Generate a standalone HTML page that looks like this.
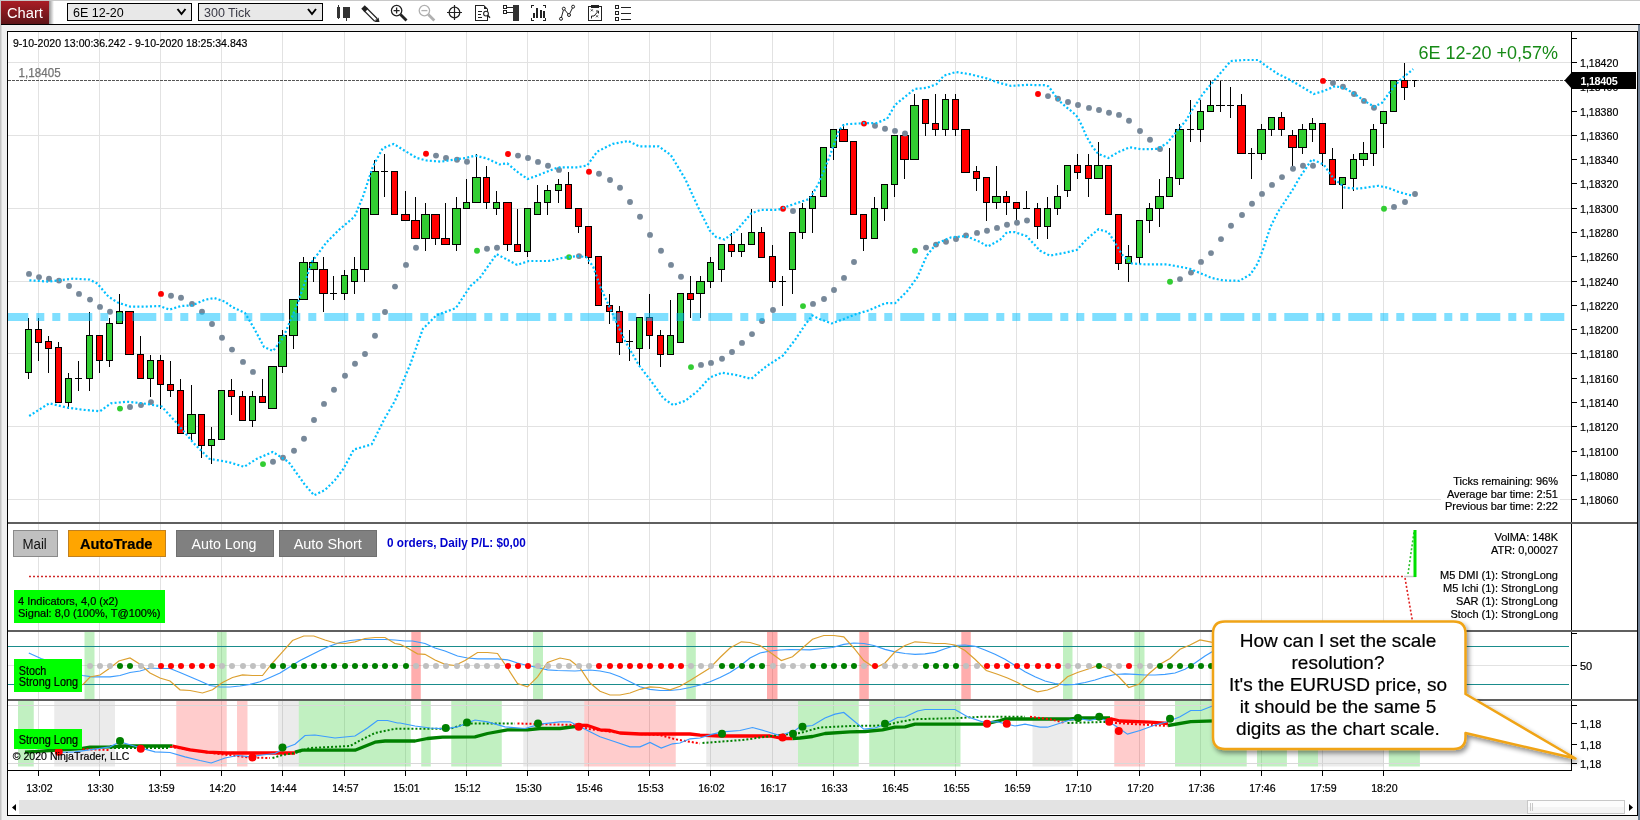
<!DOCTYPE html>
<html><head><meta charset="utf-8"><title>Chart</title>
<style>html,body{margin:0;padding:0;width:1640px;height:820px;overflow:hidden;background:#f0f0f0;font-family:'Liberation Sans', sans-serif;} svg text[fill="#000"]{stroke:#000;stroke-width:0.2px;}</style>
</head><body>
<div style="position:relative;width:1640px;height:820px;overflow:hidden;will-change:transform;">
<svg width="1640" height="820" viewBox="0 0 1640 820" style="position:absolute;left:0;top:0" font-family='"Liberation Sans", sans-serif'>
<defs><clipPath id="cp"><rect x="8" y="32" width="1563" height="490"/></clipPath><clipPath id="cp2"><rect x="8" y="524" width="1563" height="106"/></clipPath><clipPath id="cp3"><rect x="8" y="632" width="1563" height="67"/></clipPath><clipPath id="cp4"><rect x="8" y="701" width="1563" height="69"/></clipPath><filter id="sh" x="-10%" y="-10%" width="130%" height="140%"><feGaussianBlur in="SourceAlpha" stdDeviation="2.5"/><feOffset dx="2" dy="3"/><feComponentTransfer><feFuncA type="linear" slope="0.45"/></feComponentTransfer><feMerge><feMergeNode/><feMergeNode in="SourceGraphic"/></feMerge></filter></defs>
<rect x="0" y="0" width="1640" height="820" fill="#f0f0f0"/>
<rect x="0" y="25" width="1.5" height="795" fill="#c4c4c4"/>
<rect x="1638" y="25" width="2" height="795" fill="#718094"/>
<rect x="0" y="0" width="1640" height="24" fill="#ffffff"/>
<rect x="0" y="0" width="1640" height="1" fill="#c8c8c8"/>
<rect x="1" y="24" width="1639" height="1" fill="#000"/>
<rect x="7.5" y="31.5" width="1630" height="784" fill="#fff" stroke="#000" stroke-width="1"/>
<path d="M38.5,32V770 M99.5,32V770 M160.5,32V770 M221.5,32V770 M282.5,32V770 M344.5,32V770 M405.5,32V770 M466.5,32V770 M527.5,32V770 M588.5,32V770 M649.5,32V770 M710.5,32V770 M772.5,32V770 M833.5,32V770 M894.5,32V770 M955.5,32V770 M1016.5,32V770 M1077.5,32V770 M1139.5,32V770 M1200.5,32V770 M1261.5,32V770 M1322.5,32V770 M1383.5,32V770 M8,62.5H1571 M8,135.5H1571 M8,208.5H1571 M8,281.5H1571 M8,353.5H1571 M8,426.5H1571 M8,499.5H1571 M8,665.5H1571 M8,705.5H1571 M8,763.5H1571" stroke="#e2e2e2" stroke-width="1" fill="none"/>
<g clip-path="url(#cp)">
<line x1="8" y1="80.5" x2="1566" y2="80.5" stroke="#555" stroke-width="1" stroke-dasharray="3 1"/>
<path d="M28.5,318V329 M28.5,373V379 M38.5,318V329 M38.5,343V361 M48.5,336V341 M48.5,349V373 M58.5,342V347 M68.5,373V378 M68.5,403V409 M78.5,361V391 M75,378.5H82 M89.5,312V335 M89.5,379V391 M99.5,361V373 M109.5,318V323 M109.5,361V367 M119.5,294V311 M140.5,336V354 M150.5,355V360 M150.5,379V397 M160.5,355V360 M160.5,385V409 M170.5,361V384 M170.5,391V397 M180.5,379V390 M191.5,385V414 M191.5,434V440 M201.5,446V458 M211.5,427V439 M211.5,446V464 M231.5,379V390 M231.5,397V415 M242.5,391V396 M252.5,391V396 M252.5,421V427 M262.5,379V396 M282.5,330V335 M282.5,367V373 M293.5,336V349 M303.5,257V262 M313.5,257V262 M313.5,270V282 M323.5,257V269 M323.5,294V312 M333.5,276V300 M330,293.5H337 M344.5,270V275 M344.5,294V300 M354.5,257V269 M354.5,282V294 M364.5,270V282 M374.5,160V171 M384.5,154V197 M381,171.5H388 M405.5,191V214 M415.5,197V220 M425.5,203V214 M425.5,239V251 M435.5,239V245 M445.5,203V238 M456.5,197V208 M456.5,245V251 M466.5,179V202 M476.5,154V177 M486.5,166V177 M486.5,203V209 M496.5,191V202 M496.5,209V215 M507.5,245V251 M517.5,209V244 M527.5,252V257 M537.5,185V202 M547.5,185V190 M547.5,203V215 M558.5,179V184 M558.5,191V203 M568.5,172V184 M578.5,227V233 M588.5,258V264 M609.5,294V305 M609.5,312V324 M619.5,306V311 M619.5,343V355 M629.5,330V361 M626,341.5H633 M639.5,349V367 M649.5,294V317 M649.5,336V349 M660.5,330V335 M660.5,355V367 M670.5,300V335 M690.5,276V293 M690.5,300V318 M700.5,276V281 M700.5,294V318 M710.5,257V262 M710.5,282V288 M721.5,270V282 M731.5,233V244 M731.5,252V257 M741.5,233V244 M741.5,252V257 M751.5,209V232 M761.5,227V232 M772.5,245V256 M772.5,282V288 M782.5,276V306 M779,281.5H786 M792.5,270V294 M802.5,203V208 M802.5,233V239 M812.5,191V196 M812.5,209V233 M833.5,148V160 M843.5,124V129 M863.5,239V251 M874.5,197V208 M884.5,209V221 M894.5,185V197 M904.5,160V179 M914.5,94V105 M925.5,124V136 M935.5,94V123 M935.5,130V136 M945.5,94V99 M945.5,130V136 M955.5,94V99 M955.5,130V136 M976.5,166V171 M976.5,179V191 M986.5,203V221 M996.5,166V196 M996.5,203V209 M1006.5,191V196 M1006.5,203V215 M1016.5,209V221 M1026.5,191V209 M1023,208.5H1030 M1037.5,203V208 M1037.5,227V239 M1047.5,197V208 M1047.5,227V239 M1057.5,185V196 M1057.5,209V215 M1067.5,191V197 M1077.5,154V165 M1077.5,173V179 M1088.5,154V165 M1088.5,179V197 M1098.5,142V165 M1118.5,264V270 M1128.5,245V256 M1128.5,264V282 M1139.5,258V264 M1149.5,203V208 M1149.5,221V233 M1159.5,179V196 M1159.5,209V227 M1169.5,148V177 M1179.5,124V129 M1179.5,179V185 M1190.5,100V142 M1187,129.5H1194 M1200.5,100V111 M1200.5,130V142 M1210.5,81V105 M1220.5,81V112 M1216,105.5H1225 M1230.5,87V118 M1227,105.5H1234 M1241.5,94V105 M1251.5,148V179 M1248,153.5H1255 M1261.5,124V129 M1261.5,154V160 M1271.5,130V136 M1281.5,112V117 M1281.5,130V136 M1292.5,130V135 M1292.5,148V166 M1302.5,124V129 M1302.5,148V154 M1312.5,118V123 M1312.5,130V142 M1322.5,154V166 M1332.5,148V159 M1342.5,185V209 M1353.5,154V159 M1353.5,179V191 M1363.5,142V153 M1363.5,160V166 M1373.5,124V129 M1373.5,154V166 M1383.5,124V148 M1404.5,63V80 M1404.5,88V100 M1414.5,80V87 M1412,80.5H1417" stroke="#000" stroke-width="1" fill="none"/>
<rect x="25.5" y="329.5" width="6" height="43" fill="#32cd32" stroke="#000" stroke-width="1"/><rect x="35.5" y="329.5" width="6" height="13" fill="#ff0000" stroke="#000" stroke-width="1"/><rect x="45.5" y="341.5" width="6" height="7" fill="#ff0000" stroke="#000" stroke-width="1"/><rect x="55.5" y="347.5" width="6" height="55" fill="#ff0000" stroke="#000" stroke-width="1"/><rect x="65.5" y="378.5" width="6" height="24" fill="#32cd32" stroke="#000" stroke-width="1"/><rect x="86.5" y="335.5" width="6" height="43" fill="#32cd32" stroke="#000" stroke-width="1"/><rect x="96.5" y="335.5" width="6" height="25" fill="#ff0000" stroke="#000" stroke-width="1"/><rect x="106.5" y="323.5" width="6" height="37" fill="#32cd32" stroke="#000" stroke-width="1"/><rect x="116.5" y="311.5" width="6" height="12" fill="#32cd32" stroke="#000" stroke-width="1"/><rect x="125.5" y="311.5" width="8" height="43" fill="#ff0000" stroke="#000" stroke-width="1"/><rect x="137.5" y="354.5" width="6" height="24" fill="#ff0000" stroke="#000" stroke-width="1"/><rect x="147.5" y="360.5" width="6" height="18" fill="#32cd32" stroke="#000" stroke-width="1"/><rect x="157.5" y="360.5" width="6" height="24" fill="#ff0000" stroke="#000" stroke-width="1"/><rect x="167.5" y="384.5" width="6" height="6" fill="#ff0000" stroke="#000" stroke-width="1"/><rect x="177.5" y="390.5" width="6" height="43" fill="#ff0000" stroke="#000" stroke-width="1"/><rect x="187.5" y="414.5" width="8" height="19" fill="#32cd32" stroke="#000" stroke-width="1"/><rect x="198.5" y="414.5" width="6" height="31" fill="#ff0000" stroke="#000" stroke-width="1"/><rect x="208.5" y="439.5" width="6" height="6" fill="#32cd32" stroke="#000" stroke-width="1"/><rect x="218.5" y="390.5" width="6" height="49" fill="#32cd32" stroke="#000" stroke-width="1"/><rect x="228.5" y="390.5" width="6" height="6" fill="#ff0000" stroke="#000" stroke-width="1"/><rect x="239.5" y="396.5" width="6" height="24" fill="#ff0000" stroke="#000" stroke-width="1"/><rect x="249.5" y="396.5" width="6" height="24" fill="#32cd32" stroke="#000" stroke-width="1"/><rect x="259.5" y="396.5" width="6" height="6" fill="#ff0000" stroke="#000" stroke-width="1"/><rect x="268.5" y="366.5" width="8" height="42" fill="#32cd32" stroke="#000" stroke-width="1"/><rect x="278.5" y="335.5" width="8" height="31" fill="#32cd32" stroke="#000" stroke-width="1"/><rect x="289.5" y="299.5" width="8" height="36" fill="#32cd32" stroke="#000" stroke-width="1"/><rect x="299.5" y="262.5" width="8" height="37" fill="#32cd32" stroke="#000" stroke-width="1"/><rect x="309.5" y="262.5" width="8" height="7" fill="#32cd32" stroke="#000" stroke-width="1"/><rect x="319.5" y="269.5" width="8" height="24" fill="#ff0000" stroke="#000" stroke-width="1"/><rect x="341.5" y="275.5" width="6" height="18" fill="#32cd32" stroke="#000" stroke-width="1"/><rect x="351.5" y="269.5" width="6" height="12" fill="#32cd32" stroke="#000" stroke-width="1"/><rect x="360.5" y="208.5" width="8" height="61" fill="#32cd32" stroke="#000" stroke-width="1"/><rect x="370.5" y="171.5" width="8" height="43" fill="#32cd32" stroke="#000" stroke-width="1"/><rect x="391.5" y="171.5" width="6" height="43" fill="#ff0000" stroke="#000" stroke-width="1"/><rect x="401.5" y="214.5" width="8" height="6" fill="#ff0000" stroke="#000" stroke-width="1"/><rect x="411.5" y="220.5" width="8" height="18" fill="#ff0000" stroke="#000" stroke-width="1"/><rect x="421.5" y="214.5" width="8" height="24" fill="#32cd32" stroke="#000" stroke-width="1"/><rect x="431.5" y="214.5" width="8" height="24" fill="#ff0000" stroke="#000" stroke-width="1"/><rect x="441.5" y="238.5" width="8" height="6" fill="#ff0000" stroke="#000" stroke-width="1"/><rect x="452.5" y="208.5" width="8" height="36" fill="#32cd32" stroke="#000" stroke-width="1"/><rect x="463.5" y="202.5" width="6" height="6" fill="#32cd32" stroke="#000" stroke-width="1"/><rect x="472.5" y="177.5" width="8" height="25" fill="#32cd32" stroke="#000" stroke-width="1"/><rect x="483.5" y="177.5" width="6" height="25" fill="#ff0000" stroke="#000" stroke-width="1"/><rect x="493.5" y="202.5" width="6" height="6" fill="#32cd32" stroke="#000" stroke-width="1"/><rect x="503.5" y="202.5" width="8" height="42" fill="#ff0000" stroke="#000" stroke-width="1"/><rect x="514.5" y="244.5" width="6" height="7" fill="#ff0000" stroke="#000" stroke-width="1"/><rect x="524.5" y="208.5" width="6" height="43" fill="#32cd32" stroke="#000" stroke-width="1"/><rect x="534.5" y="202.5" width="6" height="12" fill="#32cd32" stroke="#000" stroke-width="1"/><rect x="544.5" y="190.5" width="6" height="12" fill="#32cd32" stroke="#000" stroke-width="1"/><rect x="555.5" y="184.5" width="6" height="6" fill="#32cd32" stroke="#000" stroke-width="1"/><rect x="565.5" y="184.5" width="6" height="24" fill="#ff0000" stroke="#000" stroke-width="1"/><rect x="575.5" y="208.5" width="6" height="18" fill="#ff0000" stroke="#000" stroke-width="1"/><rect x="585.5" y="226.5" width="6" height="31" fill="#ff0000" stroke="#000" stroke-width="1"/><rect x="595.5" y="256.5" width="6" height="49" fill="#ff0000" stroke="#000" stroke-width="1"/><rect x="606.5" y="305.5" width="6" height="6" fill="#ff0000" stroke="#000" stroke-width="1"/><rect x="616.5" y="311.5" width="6" height="31" fill="#ff0000" stroke="#000" stroke-width="1"/><rect x="636.5" y="317.5" width="6" height="31" fill="#32cd32" stroke="#000" stroke-width="1"/><rect x="646.5" y="317.5" width="6" height="18" fill="#ff0000" stroke="#000" stroke-width="1"/><rect x="657.5" y="335.5" width="6" height="19" fill="#ff0000" stroke="#000" stroke-width="1"/><rect x="667.5" y="335.5" width="6" height="19" fill="#32cd32" stroke="#000" stroke-width="1"/><rect x="677.5" y="293.5" width="6" height="49" fill="#32cd32" stroke="#000" stroke-width="1"/><rect x="687.5" y="293.5" width="6" height="6" fill="#ff0000" stroke="#000" stroke-width="1"/><rect x="696.5" y="281.5" width="8" height="12" fill="#32cd32" stroke="#000" stroke-width="1"/><rect x="707.5" y="262.5" width="6" height="19" fill="#32cd32" stroke="#000" stroke-width="1"/><rect x="718.5" y="244.5" width="6" height="25" fill="#32cd32" stroke="#000" stroke-width="1"/><rect x="728.5" y="244.5" width="6" height="7" fill="#ff0000" stroke="#000" stroke-width="1"/><rect x="738.5" y="244.5" width="6" height="7" fill="#32cd32" stroke="#000" stroke-width="1"/><rect x="748.5" y="232.5" width="6" height="12" fill="#32cd32" stroke="#000" stroke-width="1"/><rect x="758.5" y="232.5" width="6" height="25" fill="#ff0000" stroke="#000" stroke-width="1"/><rect x="769.5" y="256.5" width="6" height="25" fill="#ff0000" stroke="#000" stroke-width="1"/><rect x="789.5" y="232.5" width="6" height="37" fill="#32cd32" stroke="#000" stroke-width="1"/><rect x="799.5" y="208.5" width="6" height="24" fill="#32cd32" stroke="#000" stroke-width="1"/><rect x="809.5" y="196.5" width="6" height="12" fill="#32cd32" stroke="#000" stroke-width="1"/><rect x="820.5" y="147.5" width="6" height="49" fill="#32cd32" stroke="#000" stroke-width="1"/><rect x="830.5" y="129.5" width="6" height="18" fill="#32cd32" stroke="#000" stroke-width="1"/><rect x="839.5" y="129.5" width="8" height="12" fill="#ff0000" stroke="#000" stroke-width="1"/><rect x="850.5" y="141.5" width="6" height="73" fill="#ff0000" stroke="#000" stroke-width="1"/><rect x="860.5" y="214.5" width="6" height="24" fill="#ff0000" stroke="#000" stroke-width="1"/><rect x="871.5" y="208.5" width="6" height="30" fill="#32cd32" stroke="#000" stroke-width="1"/><rect x="881.5" y="184.5" width="6" height="24" fill="#32cd32" stroke="#000" stroke-width="1"/><rect x="891.5" y="135.5" width="6" height="49" fill="#32cd32" stroke="#000" stroke-width="1"/><rect x="900.5" y="135.5" width="8" height="24" fill="#ff0000" stroke="#000" stroke-width="1"/><rect x="910.5" y="105.5" width="8" height="54" fill="#32cd32" stroke="#000" stroke-width="1"/><rect x="922.5" y="99.5" width="6" height="24" fill="#ff0000" stroke="#000" stroke-width="1"/><rect x="932.5" y="123.5" width="6" height="6" fill="#ff0000" stroke="#000" stroke-width="1"/><rect x="942.5" y="99.5" width="6" height="30" fill="#32cd32" stroke="#000" stroke-width="1"/><rect x="952.5" y="99.5" width="6" height="30" fill="#ff0000" stroke="#000" stroke-width="1"/><rect x="961.5" y="129.5" width="8" height="43" fill="#ff0000" stroke="#000" stroke-width="1"/><rect x="973.5" y="171.5" width="6" height="7" fill="#ff0000" stroke="#000" stroke-width="1"/><rect x="983.5" y="177.5" width="6" height="25" fill="#ff0000" stroke="#000" stroke-width="1"/><rect x="992.5" y="196.5" width="8" height="6" fill="#32cd32" stroke="#000" stroke-width="1"/><rect x="1003.5" y="196.5" width="6" height="6" fill="#ff0000" stroke="#000" stroke-width="1"/><rect x="1013.5" y="202.5" width="6" height="6" fill="#ff0000" stroke="#000" stroke-width="1"/><rect x="1034.5" y="208.5" width="6" height="18" fill="#ff0000" stroke="#000" stroke-width="1"/><rect x="1044.5" y="208.5" width="6" height="18" fill="#32cd32" stroke="#000" stroke-width="1"/><rect x="1054.5" y="196.5" width="6" height="12" fill="#32cd32" stroke="#000" stroke-width="1"/><rect x="1064.5" y="165.5" width="6" height="25" fill="#32cd32" stroke="#000" stroke-width="1"/><rect x="1074.5" y="165.5" width="6" height="7" fill="#ff0000" stroke="#000" stroke-width="1"/><rect x="1085.5" y="165.5" width="6" height="13" fill="#ff0000" stroke="#000" stroke-width="1"/><rect x="1094.5" y="165.5" width="8" height="13" fill="#32cd32" stroke="#000" stroke-width="1"/><rect x="1105.5" y="165.5" width="6" height="49" fill="#ff0000" stroke="#000" stroke-width="1"/><rect x="1115.5" y="214.5" width="6" height="49" fill="#ff0000" stroke="#000" stroke-width="1"/><rect x="1125.5" y="256.5" width="6" height="7" fill="#32cd32" stroke="#000" stroke-width="1"/><rect x="1136.5" y="220.5" width="6" height="37" fill="#32cd32" stroke="#000" stroke-width="1"/><rect x="1146.5" y="208.5" width="6" height="12" fill="#32cd32" stroke="#000" stroke-width="1"/><rect x="1155.5" y="196.5" width="8" height="12" fill="#32cd32" stroke="#000" stroke-width="1"/><rect x="1166.5" y="177.5" width="6" height="19" fill="#32cd32" stroke="#000" stroke-width="1"/><rect x="1175.5" y="129.5" width="8" height="49" fill="#32cd32" stroke="#000" stroke-width="1"/><rect x="1197.5" y="111.5" width="6" height="18" fill="#32cd32" stroke="#000" stroke-width="1"/><rect x="1207.5" y="105.5" width="6" height="6" fill="#32cd32" stroke="#000" stroke-width="1"/><rect x="1237.5" y="105.5" width="8" height="48" fill="#ff0000" stroke="#000" stroke-width="1"/><rect x="1257.5" y="129.5" width="8" height="24" fill="#32cd32" stroke="#000" stroke-width="1"/><rect x="1268.5" y="117.5" width="6" height="12" fill="#32cd32" stroke="#000" stroke-width="1"/><rect x="1278.5" y="117.5" width="6" height="12" fill="#ff0000" stroke="#000" stroke-width="1"/><rect x="1288.5" y="135.5" width="8" height="12" fill="#ff0000" stroke="#000" stroke-width="1"/><rect x="1298.5" y="129.5" width="8" height="18" fill="#32cd32" stroke="#000" stroke-width="1"/><rect x="1309.5" y="123.5" width="6" height="6" fill="#32cd32" stroke="#000" stroke-width="1"/><rect x="1319.5" y="123.5" width="6" height="30" fill="#ff0000" stroke="#000" stroke-width="1"/><rect x="1329.5" y="159.5" width="6" height="25" fill="#ff0000" stroke="#000" stroke-width="1"/><rect x="1339.5" y="177.5" width="6" height="7" fill="#32cd32" stroke="#000" stroke-width="1"/><rect x="1350.5" y="159.5" width="6" height="19" fill="#32cd32" stroke="#000" stroke-width="1"/><rect x="1359.5" y="153.5" width="8" height="6" fill="#32cd32" stroke="#000" stroke-width="1"/><rect x="1370.5" y="129.5" width="6" height="24" fill="#32cd32" stroke="#000" stroke-width="1"/><rect x="1380.5" y="111.5" width="6" height="12" fill="#32cd32" stroke="#000" stroke-width="1"/><rect x="1390.5" y="80.5" width="6" height="31" fill="#32cd32" stroke="#000" stroke-width="1"/><rect x="1401.5" y="80.5" width="6" height="7" fill="#ff0000" stroke="#000" stroke-width="1"/>
<circle cx="29" cy="273.9" r="2.95" fill="#778899"/><circle cx="39" cy="277.1" r="2.95" fill="#778899"/><circle cx="49" cy="278.7" r="2.95" fill="#778899"/><circle cx="59" cy="280.6" r="2.95" fill="#778899"/><circle cx="69" cy="286.0" r="2.95" fill="#778899"/><circle cx="79" cy="293.9" r="2.95" fill="#778899"/><circle cx="90" cy="299.6" r="2.95" fill="#778899"/><circle cx="100" cy="306.9" r="2.95" fill="#778899"/><circle cx="110" cy="311.7" r="2.95" fill="#778899"/><circle cx="120" cy="408.6" r="2.95" fill="#32cd32"/><circle cx="130" cy="407.0" r="2.95" fill="#778899"/><circle cx="141" cy="405.1" r="2.95" fill="#778899"/><circle cx="151" cy="402.1" r="2.95" fill="#778899"/><circle cx="161" cy="293.9" r="2.95" fill="#ff0000"/><circle cx="171" cy="295.8" r="2.95" fill="#778899"/><circle cx="181" cy="297.8" r="2.95" fill="#778899"/><circle cx="192" cy="303.9" r="2.95" fill="#778899"/><circle cx="202" cy="311.7" r="2.95" fill="#778899"/><circle cx="212" cy="324.0" r="2.95" fill="#778899"/><circle cx="222" cy="337.8" r="2.95" fill="#778899"/><circle cx="232" cy="349.6" r="2.95" fill="#778899"/><circle cx="243" cy="361.9" r="2.95" fill="#778899"/><circle cx="253" cy="371.9" r="2.95" fill="#778899"/><circle cx="263" cy="464.1" r="2.95" fill="#32cd32"/><circle cx="273" cy="461.8" r="2.95" fill="#778899"/><circle cx="283" cy="457.7" r="2.95" fill="#778899"/><circle cx="294" cy="450.8" r="2.95" fill="#778899"/><circle cx="304" cy="438.7" r="2.95" fill="#778899"/><circle cx="314" cy="420.0" r="2.95" fill="#778899"/><circle cx="324" cy="403.9" r="2.95" fill="#778899"/><circle cx="334" cy="389.8" r="2.95" fill="#778899"/><circle cx="345" cy="375.7" r="2.95" fill="#778899"/><circle cx="355" cy="363.7" r="2.95" fill="#778899"/><circle cx="365" cy="354.0" r="2.95" fill="#778899"/><circle cx="375" cy="335.8" r="2.95" fill="#778899"/><circle cx="385" cy="312.0" r="2.95" fill="#778899"/><circle cx="395" cy="286.6" r="2.95" fill="#778899"/><circle cx="406" cy="264.9" r="2.95" fill="#778899"/><circle cx="416" cy="247.8" r="2.95" fill="#778899"/><circle cx="426" cy="153.7" r="2.95" fill="#ff0000"/><circle cx="436" cy="155.6" r="2.95" fill="#778899"/><circle cx="446" cy="158.0" r="2.95" fill="#778899"/><circle cx="457" cy="159.8" r="2.95" fill="#778899"/><circle cx="467" cy="161.7" r="2.95" fill="#778899"/><circle cx="477" cy="250.7" r="2.95" fill="#32cd32"/><circle cx="487" cy="248.8" r="2.95" fill="#778899"/><circle cx="497" cy="247.7" r="2.95" fill="#778899"/><circle cx="508" cy="154.0" r="2.95" fill="#ff0000"/><circle cx="518" cy="155.6" r="2.95" fill="#778899"/><circle cx="528" cy="158.0" r="2.95" fill="#778899"/><circle cx="538" cy="161.9" r="2.95" fill="#778899"/><circle cx="548" cy="165.8" r="2.95" fill="#778899"/><circle cx="559" cy="169.9" r="2.95" fill="#778899"/><circle cx="569" cy="257.1" r="2.95" fill="#32cd32"/><circle cx="579" cy="256.1" r="2.95" fill="#778899"/><circle cx="589" cy="171.8" r="2.95" fill="#ff0000"/><circle cx="599" cy="173.8" r="2.95" fill="#778899"/><circle cx="610" cy="180.0" r="2.95" fill="#778899"/><circle cx="620" cy="187.8" r="2.95" fill="#778899"/><circle cx="630" cy="202.0" r="2.95" fill="#778899"/><circle cx="640" cy="216.7" r="2.95" fill="#778899"/><circle cx="650" cy="234.9" r="2.95" fill="#778899"/><circle cx="661" cy="250.7" r="2.95" fill="#778899"/><circle cx="671" cy="264.9" r="2.95" fill="#778899"/><circle cx="681" cy="276.8" r="2.95" fill="#778899"/><circle cx="691" cy="367.1" r="2.95" fill="#32cd32"/><circle cx="701" cy="364.9" r="2.95" fill="#778899"/><circle cx="711" cy="362.9" r="2.95" fill="#778899"/><circle cx="722" cy="358.8" r="2.95" fill="#778899"/><circle cx="732" cy="352.0" r="2.95" fill="#778899"/><circle cx="742" cy="342.9" r="2.95" fill="#778899"/><circle cx="752" cy="334.1" r="2.95" fill="#778899"/><circle cx="762" cy="321.0" r="2.95" fill="#778899"/><circle cx="773" cy="310.0" r="2.95" fill="#778899"/><circle cx="783" cy="208.8" r="2.95" fill="#ff0000"/><circle cx="793" cy="211.0" r="2.95" fill="#778899"/><circle cx="803" cy="306.1" r="2.95" fill="#32cd32"/><circle cx="813" cy="303.9" r="2.95" fill="#778899"/><circle cx="824" cy="299.0" r="2.95" fill="#778899"/><circle cx="834" cy="290.0" r="2.95" fill="#778899"/><circle cx="844" cy="277.9" r="2.95" fill="#778899"/><circle cx="854" cy="262.0" r="2.95" fill="#778899"/><circle cx="864" cy="123.6" r="2.95" fill="#ff0000"/><circle cx="875" cy="125.8" r="2.95" fill="#778899"/><circle cx="885" cy="128.7" r="2.95" fill="#778899"/><circle cx="895" cy="130.9" r="2.95" fill="#778899"/><circle cx="905" cy="133.5" r="2.95" fill="#778899"/><circle cx="915" cy="250.7" r="2.95" fill="#32cd32"/><circle cx="926" cy="247.6" r="2.95" fill="#778899"/><circle cx="936" cy="244.6" r="2.95" fill="#778899"/><circle cx="946" cy="241.7" r="2.95" fill="#778899"/><circle cx="956" cy="239.0" r="2.95" fill="#778899"/><circle cx="966" cy="235.4" r="2.95" fill="#778899"/><circle cx="977" cy="232.9" r="2.95" fill="#778899"/><circle cx="987" cy="230.8" r="2.95" fill="#778899"/><circle cx="997" cy="227.9" r="2.95" fill="#778899"/><circle cx="1007" cy="224.8" r="2.95" fill="#778899"/><circle cx="1017" cy="222.8" r="2.95" fill="#778899"/><circle cx="1027" cy="220.5" r="2.95" fill="#778899"/><circle cx="1038" cy="94.0" r="2.95" fill="#ff0000"/><circle cx="1048" cy="96.1" r="2.95" fill="#778899"/><circle cx="1058" cy="98.8" r="2.95" fill="#778899"/><circle cx="1068" cy="102.0" r="2.95" fill="#778899"/><circle cx="1078" cy="105.0" r="2.95" fill="#778899"/><circle cx="1089" cy="107.9" r="2.95" fill="#778899"/><circle cx="1099" cy="110.0" r="2.95" fill="#778899"/><circle cx="1109" cy="112.7" r="2.95" fill="#778899"/><circle cx="1119" cy="114.9" r="2.95" fill="#778899"/><circle cx="1129" cy="120.8" r="2.95" fill="#778899"/><circle cx="1140" cy="131.0" r="2.95" fill="#778899"/><circle cx="1150" cy="139.8" r="2.95" fill="#778899"/><circle cx="1160" cy="149.0" r="2.95" fill="#778899"/><circle cx="1170" cy="281.8" r="2.95" fill="#32cd32"/><circle cx="1180" cy="279.1" r="2.95" fill="#778899"/><circle cx="1191" cy="272.6" r="2.95" fill="#778899"/><circle cx="1201" cy="261.9" r="2.95" fill="#778899"/><circle cx="1211" cy="253.1" r="2.95" fill="#778899"/><circle cx="1221" cy="239.1" r="2.95" fill="#778899"/><circle cx="1231" cy="225.7" r="2.95" fill="#778899"/><circle cx="1242" cy="215.0" r="2.95" fill="#778899"/><circle cx="1252" cy="203.8" r="2.95" fill="#778899"/><circle cx="1262" cy="193.9" r="2.95" fill="#778899"/><circle cx="1272" cy="184.9" r="2.95" fill="#778899"/><circle cx="1282" cy="177.1" r="2.95" fill="#778899"/><circle cx="1293" cy="168.7" r="2.95" fill="#778899"/><circle cx="1303" cy="165.8" r="2.95" fill="#778899"/><circle cx="1313" cy="165.8" r="2.95" fill="#778899"/><circle cx="1323" cy="80.9" r="2.95" fill="#ff0000"/><circle cx="1333" cy="83.0" r="2.95" fill="#778899"/><circle cx="1343" cy="86.8" r="2.95" fill="#778899"/><circle cx="1354" cy="94.0" r="2.95" fill="#778899"/><circle cx="1364" cy="100.9" r="2.95" fill="#778899"/><circle cx="1374" cy="107.7" r="2.95" fill="#778899"/><circle cx="1384" cy="208.8" r="2.95" fill="#32cd32"/><circle cx="1394" cy="206.9" r="2.95" fill="#778899"/><circle cx="1405" cy="202.0" r="2.95" fill="#778899"/><circle cx="1415" cy="194.0" r="2.95" fill="#778899"/>
<polyline points="29.4,280.3 48.6,281.6 73.0,278.6 89.6,279.6 97.3,283.5 108.3,296.5 117.8,302.6 130.3,306.6 145.0,306.6 159.7,306.0 169.5,309.6 181.1,306.0 192.1,305.4 204.9,299.8 214.1,298.0 224.9,301.6 232.0,307.0 245.0,313.0 255.0,330.0 264.0,347.0 273.0,351.0 283.0,338.0 297.0,305.0 305.0,282.0 312.0,261.7 326.6,242.2 338.8,230.0 354.6,216.6 363.2,195.9 372.9,166.6 382.7,148.3 393.7,143.9 404.6,150.7 416.8,158.0 426.6,160.5 441.2,161.7 455.9,159.3 465.6,158.0 475.4,155.6 487.0,158.5 499.5,164.4 507.3,163.4 519.0,173.2 527.8,179.0 538.5,175.1 558.0,167.3 577.6,167.3 587.3,165.4 597.1,151.7 612.7,143.9 628.3,141.0 639.0,146.3 658.5,146.3 670.7,154.9 685.4,179.3 697.6,206.1 709.8,230.5 716.0,237.0 724.4,239.5 736.6,230.5 751.2,213.4 761.0,209.8 778.0,209.8 795.1,203.7 809.8,198.8 819.5,181.7 829.3,157.3 839.0,130.5 843.9,124.4 863.4,123.2 876.1,123.2 887.1,118.8 895.1,104.9 914.6,89.0 926.8,87.8 936.6,84.1 943.9,75.6 956.1,72.0 970.7,74.4 985.4,78.0 999.3,82.9 1011.0,85.9 1026.6,84.9 1043.9,85.2 1048.3,86.3 1051.2,90.0 1058.5,100.2 1065.9,106.8 1073.2,112.7 1077.6,117.1 1082.0,125.9 1086.3,136.1 1092.2,146.3 1098.0,153.7 1108.3,158.0 1118.0,152.2 1129.8,147.3 1141.5,149.3 1157.1,148.9 1166.8,143.4 1176.6,131.7 1186.3,120.0 1191.7,110.7 1203.4,93.2 1215.1,79.5 1230.7,61.0 1244.4,60.0 1258.0,60.0 1265.9,65.9 1277.6,73.7 1289.3,79.5 1301.0,86.3 1313.7,94.0 1323.4,91.1 1335.1,86.2 1344.9,88.2 1354.7,94.0 1364.4,100.9 1374.2,106.7 1382.0,102.8 1389.8,92.1 1399.6,80.4 1413.2,69.1" fill="none" stroke="#00bfff" stroke-width="2.2" stroke-dasharray="2 2.2" stroke-linecap="butt"/>
<polyline points="29.2,416.0 49.2,403.3 66.6,407.5 82.5,409.7 99.9,411.3 111.0,403.3 126.9,401.7 142.7,403.3 161.7,406.5 177.6,424.0 193.5,443.0 209.3,458.8 228.4,462.0 244.2,466.8 256.9,458.8 272.8,451.9 288.6,462.0 304.5,484.2 314.0,495.3 325.0,490.0 335.0,480.0 343.5,468.7 353.8,449.5 371.7,444.4 384.5,418.8 395.0,400.8 410.0,365.0 422.9,328.8 436.3,315.4 455.9,308.0 470.5,286.0 480.0,277.6 496.6,254.1 517.1,264.9 528.8,261.0 548.3,261.0 562.0,258.0 577.6,256.1 586.3,257.1 593.2,266.8 601.0,288.3 612.2,312.9 624.4,339.8 639.0,365.4 651.2,381.2 663.4,398.3 673.2,405.1 685.4,400.7 697.6,391.0 709.8,377.6 722.0,372.7 736.6,375.1 751.2,378.8 765.9,366.6 782.9,355.6 795.1,339.8 804.9,325.1 812.2,315.4 819.5,319.0 831.7,323.4 843.9,319.0 856.1,314.1 868.3,310.5 885.4,303.2 895.1,303.2 907.3,291.0 917.1,277.6 926.8,255.6 936.6,243.4 951.2,237.3 965.9,236.1 980.5,242.2 987.8,246.6 1000.0,239.8 1007.0,232.2 1014.9,232.2 1026.6,236.1 1040.0,250.7 1049.8,255.6 1065.4,252.7 1077.1,249.8 1086.8,239.0 1098.5,229.3 1108.3,232.2 1114.1,241.0 1122.0,254.6 1131.7,263.4 1145.4,264.4 1166.8,264.4 1186.3,268.0 1190.0,268.9 1201.0,273.5 1212.0,278.0 1222.9,280.4 1239.4,280.8 1250.4,274.4 1257.7,263.4 1263.2,248.8 1270.5,226.8 1277.8,212.2 1285.1,201.2 1292.4,190.2 1299.7,177.4 1307.1,166.5 1311.7,159.4 1323.4,164.3 1333.2,178.0 1344.9,187.7 1358.6,188.7 1378.1,185.8 1387.8,187.7 1397.6,191.6 1411.3,195.5" fill="none" stroke="#00bfff" stroke-width="2.2" stroke-dasharray="2 2.2" stroke-linecap="butt"/>
<line x1="4.3" y1="317" x2="1571" y2="317" stroke="#00bfff" stroke-opacity="0.5" stroke-width="8" stroke-dasharray="24 8 8 8 8 8"/>
</g>
<text x="13" y="47" font-size="11" fill="#000" textLength="234.5" lengthAdjust="spacingAndGlyphs">9-10-2020 13:00:36.242 - 9-10-2020 18:25:34.843</text>
<text x="18.6" y="76.6" font-size="12.8" fill="#737373" stroke="#737373" stroke-width="0.25" textLength="42" lengthAdjust="spacingAndGlyphs">1,18405</text>
<rect x="1416" y="42" width="145" height="20" fill="#fff"/>
<text x="1418.5" y="58.8" font-size="17.6" fill="#168a16" textLength="139.5" lengthAdjust="spacingAndGlyphs">6E 12-20 +0,57%</text>
<rect x="1441" y="474" width="119" height="37" fill="#fff"/>
<text x="1558" y="485.0" font-size="11" fill="#000" text-anchor="end">Ticks remaining: 96%</text>
<text x="1558" y="497.6" font-size="11" fill="#000" text-anchor="end">Average bar time: 2:51</text>
<text x="1558" y="510.2" font-size="11" fill="#000" text-anchor="end">Previous bar time: 2:22</text>
<rect x="1571" y="32" width="1" height="738" fill="#000"/>
<path d="M1572,38.5H1577 M1572,62.5H1577 M1572,86.5H1577 M1572,111.5H1577 M1572,135.5H1577 M1572,159.5H1577 M1572,183.5H1577 M1572,208.5H1577 M1572,232.5H1577 M1572,256.5H1577 M1572,281.5H1577 M1572,305.5H1577 M1572,329.5H1577 M1572,353.5H1577 M1572,378.5H1577 M1572,402.5H1577 M1572,426.5H1577 M1572,451.5H1577 M1572,475.5H1577 M1572,499.5H1577 M1572,633.5H1577 M1572,665.5H1577 M1572,705.5H1577 M1572,723.5H1577 M1572,744.5H1577 M1572,763.5H1577" stroke="#000" stroke-width="1"/>
<text x="1580" y="66.5" font-size="10.6" fill="#000">1,18420</text><text x="1580" y="90.5" font-size="10.6" fill="#000">1,18400</text><text x="1580" y="115.5" font-size="10.6" fill="#000">1,18380</text><text x="1580" y="139.5" font-size="10.6" fill="#000">1,18360</text><text x="1580" y="163.5" font-size="10.6" fill="#000">1,18340</text><text x="1580" y="187.5" font-size="10.6" fill="#000">1,18320</text><text x="1580" y="212.5" font-size="10.6" fill="#000">1,18300</text><text x="1580" y="236.5" font-size="10.6" fill="#000">1,18280</text><text x="1580" y="260.5" font-size="10.6" fill="#000">1,18260</text><text x="1580" y="285.5" font-size="10.6" fill="#000">1,18240</text><text x="1580" y="309.5" font-size="10.6" fill="#000">1,18220</text><text x="1580" y="333.5" font-size="10.6" fill="#000">1,18200</text><text x="1580" y="357.5" font-size="10.6" fill="#000">1,18180</text><text x="1580" y="382.5" font-size="10.6" fill="#000">1,18160</text><text x="1580" y="406.5" font-size="10.6" fill="#000">1,18140</text><text x="1580" y="430.5" font-size="10.6" fill="#000">1,18120</text><text x="1580" y="455.5" font-size="10.6" fill="#000">1,18100</text><text x="1580" y="479.5" font-size="10.6" fill="#000">1,18080</text><text x="1580" y="503.5" font-size="10.6" fill="#000">1,18060</text><text x="1580" y="670" font-size="11" fill="#000">50</text><text x="1580" y="727.5" font-size="11" fill="#000">1,18</text><text x="1580" y="748.5" font-size="11" fill="#000">1,18</text><text x="1580" y="767.5" font-size="11" fill="#000">1,18</text>
<path d="M1564.5,80.5 L1572,72 H1636 V89 H1572 Z" fill="#000"/>
<text x="1580.5" y="84.8" font-size="10.8" fill="#fff" font-weight="bold" letter-spacing="-0.3">1,18405</text>
<rect x="8" y="522" width="1629" height="2" fill="#5f5f5f"/>
<rect x="8" y="630" width="1629" height="2" fill="#5f5f5f"/>
<rect x="8" y="699" width="1629" height="2" fill="#5f5f5f"/>
<rect x="13.5" y="530.5" width="44" height="26" fill="#c0c0c0" stroke="#8a8a8a"/>
<text x="22.4" y="549.3" font-size="14" fill="#111" textLength="24.4" lengthAdjust="spacingAndGlyphs">Mail</text>
<rect x="68.5" y="530.5" width="97" height="26" fill="#ffa500" stroke="#c08020"/>
<text x="80" y="549.3" font-size="14" font-weight="bold" fill="#000" textLength="72.5" lengthAdjust="spacingAndGlyphs">AutoTrade</text>
<rect x="176.5" y="530.5" width="97" height="26" fill="#808080" stroke="#707070"/>
<text x="191.6" y="549.3" font-size="14" fill="#fff" textLength="64.9" lengthAdjust="spacingAndGlyphs">Auto Long</text>
<rect x="279.5" y="530.5" width="97" height="26" fill="#808080" stroke="#707070"/>
<text x="293.7" y="549.3" font-size="14" fill="#fff" textLength="68.2" lengthAdjust="spacingAndGlyphs">Auto Short</text>
<text x="387" y="547" font-size="12" font-weight="bold" fill="#0000cd" textLength="138.9" lengthAdjust="spacingAndGlyphs">0 orders, Daily P/L: $0,00</text>
<line x1="29" y1="576.5" x2="1404" y2="576.5" stroke="#d02828" stroke-width="1.6" stroke-dasharray="2 2"/>
<line x1="1404" y1="576.5" x2="1416" y2="576.5" stroke="#c8c8c8" stroke-width="1.5"/>
<line x1="1408" y1="574" x2="1414" y2="532" stroke="#30c030" stroke-width="1.6" stroke-dasharray="2 2"/>
<line x1="1405" y1="578" x2="1414" y2="630" stroke="#e02020" stroke-width="1.6" stroke-dasharray="2 2"/>
<rect x="1413.5" y="530" width="3" height="47" fill="#00e000"/>
<rect x="14" y="590" width="151" height="33" fill="#00ff00"/>
<text x="18" y="605" font-size="11" fill="#000">4 Indicators, 4,0 (x2)</text>
<text x="18" y="617" font-size="11" fill="#000">Signal: 8,0 (100%, T@100%)</text>
<text x="1558" y="541" font-size="11" fill="#000" text-anchor="end">VolMA: 148K</text>
<text x="1558" y="554.2" font-size="11" fill="#000" text-anchor="end">ATR: 0,00027</text>
<text x="1558" y="578.9" font-size="11" fill="#000" text-anchor="end">M5 DMI (1): StrongLong</text>
<text x="1558" y="592" font-size="11" fill="#000" text-anchor="end">M5 Ichi (1): StrongLong</text>
<text x="1558" y="605" font-size="11" fill="#000" text-anchor="end">SAR (1): StrongLong</text>
<text x="1558" y="617.7" font-size="11" fill="#000" text-anchor="end">Stoch (1): StrongLong</text>
<g clip-path="url(#cp3)">
<rect x="84.5" y="632" width="10.0" height="67" fill="#32cd32" fill-opacity="0.3"/>
<rect x="217" y="632" width="9.599999999999994" height="67" fill="#32cd32" fill-opacity="0.3"/>
<rect x="411.3" y="632" width="9.5" height="67" fill="#ff0000" fill-opacity="0.32"/>
<rect x="533" y="632" width="10" height="67" fill="#32cd32" fill-opacity="0.3"/>
<rect x="686.3" y="632" width="9.5" height="67" fill="#32cd32" fill-opacity="0.3"/>
<rect x="767" y="632" width="10.5" height="67" fill="#ff0000" fill-opacity="0.32"/>
<rect x="859.3" y="632" width="9.5" height="67" fill="#ff0000" fill-opacity="0.32"/>
<rect x="961.3" y="632" width="9.5" height="67" fill="#ff0000" fill-opacity="0.32"/>
<rect x="1063" y="632" width="9.5" height="67" fill="#32cd32" fill-opacity="0.3"/>
<rect x="1134.3" y="632" width="10.200000000000045" height="67" fill="#32cd32" fill-opacity="0.3"/>
<path d="M8,646.5H1569 M8,684.5H1569" stroke="#1a8c8c" stroke-width="1"/>
<polyline points="28.8,653.0 41.0,658.5 55.0,663.0 82.5,675.5 92.5,676.8 110.0,676.8 120.0,675.5 130.0,672.5 140.0,671.0 150.0,668.0 160.0,668.5 170.0,668.5 180.0,672.5 190.0,676.8 200.0,681.0 210.0,685.5 220.0,687.0 230.0,687.0 240.0,686.0 250.0,684.3 260.0,681.8 270.0,677.5 280.0,673.0 290.0,666.8 300.0,660.5 310.0,655.5 320.0,650.5 330.0,646.0 340.0,642.5 350.0,640.5 360.0,639.5 370.0,639.5 385.0,639.5 395.0,640.0 405.0,641.0 412.5,641.0 425.0,643.5 435.0,648.0 445.0,651.0 457.5,656.0 467.5,658.0 477.5,658.8 497.5,658.8 507.5,659.8 517.5,663.0 527.5,665.5 537.5,667.5 547.5,669.8 557.5,670.5 575.0,671.0 590.0,670.0 600.0,671.0 610.0,673.0 620.0,676.8 630.0,681.8 640.0,686.8 650.0,689.3 660.0,690.5 670.0,690.5 680.0,689.5 690.0,687.5 700.0,685.0 710.0,681.8 720.0,677.5 730.0,672.5 740.0,666.0 750.0,658.0 760.0,653.0 770.0,651.0 780.0,650.0 790.0,649.5 810.0,649.8 822.5,648.5 832.5,647.5 843.8,644.3 853.8,643.0 863.8,643.5 873.8,645.5 885.0,649.3 895.0,651.8 905.0,653.5 915.0,654.3 925.0,653.8 935.0,652.3 945.0,648.8 955.0,645.5 965.0,645.0 975.0,646.3 985.0,650.0 995.0,654.3 1005.0,659.3 1015.0,665.5 1025.0,671.8 1035.0,676.8 1045.0,681.0 1055.0,683.5 1065.0,684.8 1075.0,684.3 1085.0,682.5 1095.0,680.0 1105.0,676.8 1115.0,674.5 1125.0,673.8 1135.0,674.3 1145.0,675.0 1155.0,675.0 1165.0,674.3 1175.0,673.0 1185.0,669.3 1195.0,663.0 1205.0,656.0 1215.0,650.0" fill="none" stroke="#3c9cff" stroke-width="1.2"/>
<polyline points="82.5,685.0 90.0,677.0 100.0,675.0 110.0,668.0 118.8,661.0 130.0,658.0 140.0,664.3 150.0,673.0 160.0,678.0 170.0,681.0 180.0,689.8 190.0,690.5 202.5,693.0 212.5,689.8 222.5,682.5 232.5,677.5 242.5,674.8 252.5,675.5 262.5,675.5 272.5,663.0 282.5,651.8 292.5,640.5 303.8,636.0 313.8,636.0 325.0,640.0 335.0,643.0 345.0,643.5 355.0,641.8 365.0,638.5 375.0,637.5 385.0,637.5 395.0,643.5 400.0,644.3 407.5,648.0 417.5,653.8 425.0,654.3 435.0,660.0 445.0,664.3 455.0,665.5 465.0,660.5 477.5,652.5 487.5,652.5 497.5,653.5 507.5,668.0 517.5,683.5 527.5,686.8 537.5,676.8 547.5,662.5 560.0,658.0 570.0,660.0 580.0,668.0 590.0,683.0 600.0,691.3 610.0,695.0 620.0,695.0 630.0,693.0 640.0,689.3 650.0,686.8 660.0,687.5 670.0,689.8 680.0,686.3 690.0,680.5 700.0,674.3 710.0,668.0 720.0,657.5 730.0,648.0 741.3,641.8 750.0,642.5 760.0,645.5 770.0,652.3 781.3,660.5 792.5,656.8 802.5,648.0 812.5,639.3 823.8,635.5 833.8,635.5 843.8,636.8 853.8,648.0 863.8,660.5 875.0,668.0 885.0,663.0 895.0,651.8 905.0,645.5 915.0,641.8 925.0,642.5 935.0,643.5 945.0,643.5 955.0,645.0 965.0,650.5 975.0,659.3 986.3,670.5 997.5,674.3 1007.5,678.0 1017.5,682.5 1027.5,688.0 1037.5,691.8 1047.5,690.0 1057.5,686.0 1067.5,676.8 1077.5,672.5 1087.5,669.3 1098.8,665.5 1108.8,668.8 1118.8,676.8 1128.8,687.5 1138.8,684.3 1148.8,673.8 1160.0,664.3 1170.0,658.5 1180.0,649.3 1190.0,645.0 1200.0,640.0 1210.0,641.8 1215.0,643.0" fill="none" stroke="#dca030" stroke-width="1.2"/>
<circle cx="29" cy="666" r="3" fill="#c0c0c0"/><circle cx="39" cy="666" r="3" fill="#c0c0c0"/><circle cx="49" cy="666" r="3" fill="#c0c0c0"/><circle cx="59" cy="666" r="3" fill="#c0c0c0"/><circle cx="69" cy="666" r="3" fill="#c0c0c0"/><circle cx="79" cy="666" r="3" fill="#c0c0c0"/><circle cx="90" cy="666" r="3" fill="#c0c0c0"/><circle cx="100" cy="666" r="3" fill="#c0c0c0"/><circle cx="110" cy="666" r="3" fill="#c0c0c0"/><circle cx="120" cy="666" r="3" fill="#008000"/><circle cx="130" cy="666" r="3" fill="#008000"/><circle cx="141" cy="666" r="3" fill="#c0c0c0"/><circle cx="151" cy="666" r="3" fill="#c0c0c0"/><circle cx="161" cy="666" r="3" fill="#ff0000"/><circle cx="171" cy="666" r="3" fill="#ff0000"/><circle cx="181" cy="666" r="3" fill="#ff0000"/><circle cx="192" cy="666" r="3" fill="#ff0000"/><circle cx="202" cy="666" r="3" fill="#ff0000"/><circle cx="212" cy="666" r="3" fill="#ff0000"/><circle cx="222" cy="666" r="3" fill="#c0c0c0"/><circle cx="232" cy="666" r="3" fill="#c0c0c0"/><circle cx="243" cy="666" r="3" fill="#c0c0c0"/><circle cx="253" cy="666" r="3" fill="#c0c0c0"/><circle cx="263" cy="666" r="3" fill="#c0c0c0"/><circle cx="273" cy="666" r="3" fill="#008000"/><circle cx="283" cy="666" r="3" fill="#008000"/><circle cx="294" cy="666" r="3" fill="#008000"/><circle cx="304" cy="666" r="3" fill="#008000"/><circle cx="314" cy="666" r="3" fill="#008000"/><circle cx="324" cy="666" r="3" fill="#008000"/><circle cx="334" cy="666" r="3" fill="#008000"/><circle cx="345" cy="666" r="3" fill="#008000"/><circle cx="355" cy="666" r="3" fill="#008000"/><circle cx="365" cy="666" r="3" fill="#008000"/><circle cx="375" cy="666" r="3" fill="#008000"/><circle cx="385" cy="666" r="3" fill="#008000"/><circle cx="395" cy="666" r="3" fill="#008000"/><circle cx="406" cy="666" r="3" fill="#008000"/><circle cx="416" cy="666" r="3" fill="#c0c0c0"/><circle cx="426" cy="666" r="3" fill="#c0c0c0"/><circle cx="436" cy="666" r="3" fill="#c0c0c0"/><circle cx="446" cy="666" r="3" fill="#c0c0c0"/><circle cx="457" cy="666" r="3" fill="#c0c0c0"/><circle cx="467" cy="666" r="3" fill="#c0c0c0"/><circle cx="477" cy="666" r="3" fill="#c0c0c0"/><circle cx="487" cy="666" r="3" fill="#c0c0c0"/><circle cx="497" cy="666" r="3" fill="#c0c0c0"/><circle cx="508" cy="666" r="3" fill="#ff0000"/><circle cx="518" cy="666" r="3" fill="#ff0000"/><circle cx="528" cy="666" r="3" fill="#ff0000"/><circle cx="538" cy="666" r="3" fill="#c0c0c0"/><circle cx="548" cy="666" r="3" fill="#c0c0c0"/><circle cx="559" cy="666" r="3" fill="#c0c0c0"/><circle cx="569" cy="666" r="3" fill="#c0c0c0"/><circle cx="579" cy="666" r="3" fill="#c0c0c0"/><circle cx="589" cy="666" r="3" fill="#c0c0c0"/><circle cx="599" cy="666" r="3" fill="#ff0000"/><circle cx="610" cy="666" r="3" fill="#ff0000"/><circle cx="620" cy="666" r="3" fill="#ff0000"/><circle cx="630" cy="666" r="3" fill="#ff0000"/><circle cx="640" cy="666" r="3" fill="#ff0000"/><circle cx="650" cy="666" r="3" fill="#ff0000"/><circle cx="661" cy="666" r="3" fill="#ff0000"/><circle cx="671" cy="666" r="3" fill="#ff0000"/><circle cx="681" cy="666" r="3" fill="#ff0000"/><circle cx="691" cy="666" r="3" fill="#c0c0c0"/><circle cx="701" cy="666" r="3" fill="#c0c0c0"/><circle cx="711" cy="666" r="3" fill="#c0c0c0"/><circle cx="722" cy="666" r="3" fill="#008000"/><circle cx="732" cy="666" r="3" fill="#008000"/><circle cx="742" cy="666" r="3" fill="#008000"/><circle cx="752" cy="666" r="3" fill="#008000"/><circle cx="762" cy="666" r="3" fill="#008000"/><circle cx="773" cy="666" r="3" fill="#c0c0c0"/><circle cx="783" cy="666" r="3" fill="#c0c0c0"/><circle cx="793" cy="666" r="3" fill="#c0c0c0"/><circle cx="803" cy="666" r="3" fill="#c0c0c0"/><circle cx="813" cy="666" r="3" fill="#008000"/><circle cx="824" cy="666" r="3" fill="#008000"/><circle cx="834" cy="666" r="3" fill="#008000"/><circle cx="844" cy="666" r="3" fill="#008000"/><circle cx="854" cy="666" r="3" fill="#008000"/><circle cx="864" cy="666" r="3" fill="#c0c0c0"/><circle cx="875" cy="666" r="3" fill="#ff0000"/><circle cx="885" cy="666" r="3" fill="#c0c0c0"/><circle cx="895" cy="666" r="3" fill="#c0c0c0"/><circle cx="905" cy="666" r="3" fill="#c0c0c0"/><circle cx="915" cy="666" r="3" fill="#c0c0c0"/><circle cx="926" cy="666" r="3" fill="#008000"/><circle cx="936" cy="666" r="3" fill="#008000"/><circle cx="946" cy="666" r="3" fill="#008000"/><circle cx="956" cy="666" r="3" fill="#008000"/><circle cx="966" cy="666" r="3" fill="#c0c0c0"/><circle cx="977" cy="666" r="3" fill="#c0c0c0"/><circle cx="987" cy="666" r="3" fill="#ff0000"/><circle cx="997" cy="666" r="3" fill="#ff0000"/><circle cx="1007" cy="666" r="3" fill="#ff0000"/><circle cx="1017" cy="666" r="3" fill="#ff0000"/><circle cx="1027" cy="666" r="3" fill="#ff0000"/><circle cx="1038" cy="666" r="3" fill="#ff0000"/><circle cx="1048" cy="666" r="3" fill="#ff0000"/><circle cx="1058" cy="666" r="3" fill="#ff0000"/><circle cx="1068" cy="666" r="3" fill="#c0c0c0"/><circle cx="1078" cy="666" r="3" fill="#c0c0c0"/><circle cx="1089" cy="666" r="3" fill="#c0c0c0"/><circle cx="1099" cy="666" r="3" fill="#008000"/><circle cx="1109" cy="666" r="3" fill="#c0c0c0"/><circle cx="1119" cy="666" r="3" fill="#c0c0c0"/><circle cx="1129" cy="666" r="3" fill="#ff0000"/><circle cx="1140" cy="666" r="3" fill="#c0c0c0"/><circle cx="1150" cy="666" r="3" fill="#c0c0c0"/><circle cx="1160" cy="666" r="3" fill="#008000"/><circle cx="1170" cy="666" r="3" fill="#008000"/><circle cx="1180" cy="666" r="3" fill="#008000"/><circle cx="1191" cy="666" r="3" fill="#008000"/><circle cx="1201" cy="666" r="3" fill="#008000"/><circle cx="1211" cy="666" r="3" fill="#008000"/>
</g>
<rect x="14" y="659" width="68" height="33" fill="#00ff00"/>
<text x="18.7" y="674.5" font-size="12" fill="#000" textLength="27.6" lengthAdjust="spacingAndGlyphs">Stoch</text>
<text x="18.7" y="686" font-size="12" fill="#000" textLength="59.4" lengthAdjust="spacingAndGlyphs">Strong Long</text>
<g clip-path="url(#cp4)">
<rect x="18" y="701" width="15.75" height="65.5" fill="#32cd32" fill-opacity="0.3"/>
<rect x="54.25" y="701" width="60.75" height="65.5" fill="#808080" fill-opacity="0.16"/>
<rect x="176.25" y="701" width="50.5" height="65.5" fill="#ff0000" fill-opacity="0.2"/>
<rect x="237" y="701" width="10.5" height="65.5" fill="#ff0000" fill-opacity="0.2"/>
<rect x="278" y="701" width="20.75" height="65.5" fill="#808080" fill-opacity="0.16"/>
<rect x="298.75" y="701" width="112.0" height="65.5" fill="#32cd32" fill-opacity="0.3"/>
<rect x="421.25" y="701" width="9.5" height="65.5" fill="#32cd32" fill-opacity="0.3"/>
<rect x="451.25" y="701" width="50.5" height="65.5" fill="#32cd32" fill-opacity="0.3"/>
<rect x="523.25" y="701" width="61.0" height="65.5" fill="#808080" fill-opacity="0.16"/>
<rect x="584.25" y="701" width="91.5" height="65.5" fill="#ff0000" fill-opacity="0.2"/>
<rect x="706.25" y="701" width="91.75" height="65.5" fill="#808080" fill-opacity="0.16"/>
<rect x="798" y="701" width="60.75" height="65.5" fill="#32cd32" fill-opacity="0.3"/>
<rect x="869.25" y="701" width="91.25" height="65.5" fill="#32cd32" fill-opacity="0.3"/>
<rect x="1032.5" y="701" width="40.0" height="65.5" fill="#808080" fill-opacity="0.16"/>
<rect x="1114.25" y="701" width="30.75" height="65.5" fill="#ff0000" fill-opacity="0.2"/>
<rect x="1175" y="701" width="71.70000000000005" height="65.5" fill="#32cd32" fill-opacity="0.3"/>
<rect x="1257" y="701" width="29.90000000000009" height="65.5" fill="#32cd32" fill-opacity="0.3"/>
<rect x="1298" y="701" width="20" height="65.5" fill="#32cd32" fill-opacity="0.3"/>
<rect x="1318" y="701" width="65.70000000000005" height="65.5" fill="#808080" fill-opacity="0.16"/>
<rect x="1388.8" y="701" width="31.100000000000136" height="65.5" fill="#32cd32" fill-opacity="0.3"/>
<path d="M8,705.5H1571 M8,763.5H1571" stroke="#d8d8d8" stroke-width="1"/>
<polyline points="25.0,752.2 82.5,748.5 90.0,747.2 110.0,746.8 125.0,746.0 172.5,746.0" fill="none" stroke="#008000" stroke-width="3.3" stroke-linejoin="round"/>
<polyline points="172.5,746.0 190.0,749.8 207.5,752.2 225.0,753.0 250.0,753.0 295.0,753.0" fill="none" stroke="#ff0000" stroke-width="3.3" stroke-linejoin="round"/>
<polyline points="295.0,752.2 302.5,750.2 355.0,750.2 375.0,742.2 385.0,741.0 415.0,741.0 427.5,738.5 442.5,737.2 475.0,736.8 487.5,733.5 507.5,729.8 527.5,729.8 540.0,728.5 560.0,728.5 575.0,726.5" fill="none" stroke="#008000" stroke-width="3.3" stroke-linejoin="round"/>
<polyline points="575.0,725.2 587.5,725.5 600.0,729.8 610.0,730.5 620.0,733.0 640.0,734.0 690.0,734.0 700.0,735.2 720.0,736.0 770.0,736.0 782.5,738.5 792.5,738.5" fill="none" stroke="#ff0000" stroke-width="3.3" stroke-linejoin="round"/>
<polyline points="792.5,738.5 800.0,738.0 812.5,736.5 825.0,733.5 850.0,731.8 865.0,731.5 882.5,729.8 895.0,727.2 905.0,726.8 915.0,724.2 960.0,724.2 985.0,724.2 1000.0,720.5 1005.0,719.0 1070.0,719.0 1080.0,718.0 1110.0,718.0" fill="none" stroke="#008000" stroke-width="3.3" stroke-linejoin="round"/>
<polyline points="1110.0,718.5 1120.0,721.0 1150.0,722.2 1168.0,723.5" fill="none" stroke="#ff0000" stroke-width="3.3" stroke-linejoin="round"/>
<polyline points="1168.0,725.5 1190.7,721.7 1215.0,720.9" fill="none" stroke="#008000" stroke-width="3.3" stroke-linejoin="round"/>
<polyline points="82.5,749.2 110.0,750.0" fill="none" stroke="#ff0000" stroke-width="2" stroke-dasharray="2 2"/>
<polyline points="110.0,748.0 170.0,748.0" fill="none" stroke="#008000" stroke-width="2" stroke-dasharray="2 2"/>
<polyline points="170.0,746.8 207.5,752.5 232.5,755.5 250.0,757.5 270.0,758.0" fill="none" stroke="#ff0000" stroke-width="2" stroke-dasharray="2 2"/>
<polyline points="272.5,758.0 282.5,755.0 295.0,753.0 310.0,748.0 350.0,746.0 360.0,740.5 375.0,733.0 395.0,728.8 450.0,728.8 460.0,725.5 470.0,723.5 515.0,723.5" fill="none" stroke="#008000" stroke-width="2" stroke-dasharray="2 2"/>
<polyline points="517.5,723.5 575.0,725.0 590.0,729.2 620.0,733.0 660.0,735.0 675.0,739.2 700.0,743.5" fill="none" stroke="#ff0000" stroke-width="2" stroke-dasharray="2 2"/>
<polyline points="702.5,743.0 742.5,740.0 775.0,735.5 800.0,733.0 820.0,727.5 850.0,726.0 885.0,725.5 900.0,721.8 915.0,719.2 960.0,718.0 980.0,716.8 1025.0,716.8" fill="none" stroke="#008000" stroke-width="2" stroke-dasharray="2 2"/>
<polyline points="1030.0,716.8 1050.0,719.2 1065.0,723.0" fill="none" stroke="#ff0000" stroke-width="2" stroke-dasharray="2 2"/>
<polyline points="1067.5,723.0 1110.0,721.8" fill="none" stroke="#008000" stroke-width="2" stroke-dasharray="2 2"/>
<polyline points="1115.0,723.0 1167.5,726.0" fill="none" stroke="#ff0000" stroke-width="2" stroke-dasharray="2 2"/>
<polyline points="60.0,752.5 75.0,751.8 95.0,749.2 110.0,746.8 120.0,741.8 132.5,745.5 145.0,749.2 155.0,751.8 170.0,752.5 185.0,756.8 200.0,760.5 211.2,763.0 225.0,758.0 237.5,755.5 250.0,756.8 262.5,755.0 275.0,753.5 285.0,748.0 295.0,744.2 305.0,735.5 315.0,735.0 335.0,738.0 355.0,736.0 367.5,728.0 377.5,720.5 387.5,720.5 397.5,723.0 400.0,723.0 415.0,726.0 430.0,728.0 445.0,728.8 457.5,726.8 475.0,720.0 487.5,721.8 505.0,726.8 525.0,728.5 540.0,724.2 560.0,721.8 570.0,721.8 582.5,728.0 600.0,736.8 615.0,741.8 630.0,746.8 640.0,746.8 650.0,742.5 661.2,748.0 672.5,743.8 680.0,743.0 690.0,738.8 700.0,738.0 712.5,734.2 722.5,731.8 740.0,730.5 752.5,727.5 765.0,731.0 780.0,735.5 795.0,730.5 800.0,726.8 812.5,725.5 825.0,718.0 835.0,714.2 843.8,712.5 863.8,729.2 875.0,728.0 885.0,724.2 897.5,717.5 905.0,717.0 917.5,711.0 925.0,709.5 955.0,709.5 967.5,716.8 982.5,721.8 997.5,721.8 1015.0,726.0 1025.0,724.2 1040.0,727.2 1047.5,727.2 1070.0,720.0 1080.0,718.8 1090.0,720.5 1100.0,718.0 1115.0,725.5 1127.5,734.2 1140.0,730.5 1155.0,725.0 1167.5,721.8 1180.0,716.8 1190.7,710.5 1201.0,710.5 1215.0,705.0" fill="none" stroke="#3c9cff" stroke-width="1.2"/>
<circle cx="58.75" cy="751.75" r="4" fill="#ff0000"/>
<circle cx="120" cy="741" r="4" fill="#008000"/>
<circle cx="140.75" cy="748.75" r="4" fill="#ff0000"/>
<circle cx="252.5" cy="757.5" r="4" fill="#ff0000"/>
<circle cx="282.5" cy="747.5" r="4" fill="#008000"/>
<circle cx="445.75" cy="728" r="4" fill="#008000"/>
<circle cx="467" cy="722.5" r="4" fill="#008000"/>
<circle cx="538" cy="723.5" r="4" fill="#008000"/>
<circle cx="578.75" cy="726.75" r="4" fill="#ff0000"/>
<circle cx="722" cy="733.75" r="4" fill="#008000"/>
<circle cx="782.5" cy="737.5" r="4" fill="#ff0000"/>
<circle cx="793" cy="733.75" r="4" fill="#008000"/>
<circle cx="802.5" cy="726.75" r="4" fill="#008000"/>
<circle cx="885" cy="723.75" r="4" fill="#008000"/>
<circle cx="987" cy="723.75" r="4" fill="#ff0000"/>
<circle cx="1006.75" cy="723.75" r="4" fill="#ff0000"/>
<circle cx="1078" cy="718" r="4" fill="#008000"/>
<circle cx="1099.25" cy="716.75" r="4" fill="#008000"/>
<circle cx="1109.25" cy="721.75" r="4" fill="#ff0000"/>
<circle cx="1118.75" cy="731" r="4" fill="#ff0000"/>
<circle cx="1170" cy="718.75" r="4" fill="#008000"/>
</g>
<rect x="14" y="729" width="68" height="20" fill="#00ff00"/>
<text x="18.7" y="744" font-size="12" fill="#000" textLength="59.4" lengthAdjust="spacingAndGlyphs">Strong Long</text>
<text x="12.8" y="760" font-size="11.5" fill="#000" textLength="116.5" lengthAdjust="spacingAndGlyphs">© 2020 NinjaTrader, LLC</text>
<rect x="8" y="770" width="1564" height="1" fill="#000"/>
<path d="M38.5,771V776 M99.5,771V776 M160.5,771V776 M221.5,771V776 M282.5,771V776 M344.5,771V776 M405.5,771V776 M466.5,771V776 M527.5,771V776 M588.5,771V776 M649.5,771V776 M710.5,771V776 M772.5,771V776 M833.5,771V776 M894.5,771V776 M955.5,771V776 M1016.5,771V776 M1077.5,771V776 M1139.5,771V776 M1200.5,771V776 M1261.5,771V776 M1322.5,771V776 M1383.5,771V776" stroke="#000" stroke-width="1"/>
<text x="39.4" y="792" font-size="10.6" text-anchor="middle" fill="#000">13:02</text><text x="100.4" y="792" font-size="10.6" text-anchor="middle" fill="#000">13:30</text><text x="161.4" y="792" font-size="10.6" text-anchor="middle" fill="#000">13:59</text><text x="222.4" y="792" font-size="10.6" text-anchor="middle" fill="#000">14:20</text><text x="283.4" y="792" font-size="10.6" text-anchor="middle" fill="#000">14:44</text><text x="345.4" y="792" font-size="10.6" text-anchor="middle" fill="#000">14:57</text><text x="406.4" y="792" font-size="10.6" text-anchor="middle" fill="#000">15:01</text><text x="467.4" y="792" font-size="10.6" text-anchor="middle" fill="#000">15:12</text><text x="528.4" y="792" font-size="10.6" text-anchor="middle" fill="#000">15:30</text><text x="589.4" y="792" font-size="10.6" text-anchor="middle" fill="#000">15:46</text><text x="650.4" y="792" font-size="10.6" text-anchor="middle" fill="#000">15:53</text><text x="711.4" y="792" font-size="10.6" text-anchor="middle" fill="#000">16:02</text><text x="773.4" y="792" font-size="10.6" text-anchor="middle" fill="#000">16:17</text><text x="834.4" y="792" font-size="10.6" text-anchor="middle" fill="#000">16:33</text><text x="895.4" y="792" font-size="10.6" text-anchor="middle" fill="#000">16:45</text><text x="956.4" y="792" font-size="10.6" text-anchor="middle" fill="#000">16:55</text><text x="1017.4" y="792" font-size="10.6" text-anchor="middle" fill="#000">16:59</text><text x="1078.4" y="792" font-size="10.6" text-anchor="middle" fill="#000">17:10</text><text x="1140.4" y="792" font-size="10.6" text-anchor="middle" fill="#000">17:20</text><text x="1201.4" y="792" font-size="10.6" text-anchor="middle" fill="#000">17:36</text><text x="1262.4" y="792" font-size="10.6" text-anchor="middle" fill="#000">17:46</text><text x="1323.4" y="792" font-size="10.6" text-anchor="middle" fill="#000">17:59</text><text x="1384.4" y="792" font-size="10.6" text-anchor="middle" fill="#000">18:20</text>
<rect x="8" y="800" width="1629" height="14" fill="#e3e3e3"/>
<rect x="8" y="800" width="11" height="14" fill="#fff"/>
<path d="M12,807.5 L16,804 V811 Z" fill="#000"/>
<rect x="1527.5" y="800.5" width="97" height="13" fill="#f4f4f4" stroke="#c8c8c8"/>
<rect x="1528" y="801" width="96" height="6" fill="#fcfcfc"/>
<path d="M1530.5,803V811 M1532.5,803V811" stroke="#c8c8c8" stroke-width="1"/>
<rect x="1625" y="800" width="12" height="14" fill="#fff"/>
<path d="M1633,807.5 L1629,804 V811 Z" fill="#000"/>
<g filter="url(#sh)">
<path d="M1225,621.5 H1453.5 Q1465.5,621.5 1465.5,633.5 V694 L1575.5,758.5 L1465.5,733 V737 Q1465.5,749 1453.5,749 H1225 Q1213,749 1213,737 V633.5 Q1213,621.5 1225,621.5 Z" fill="#fff" stroke="#f0a418" stroke-width="2.5" stroke-linejoin="round"/>
</g>
<text x="1338" y="647.2" font-size="19" text-anchor="middle" fill="#000">How can I set the scale</text>
<text x="1338" y="669.1" font-size="19" text-anchor="middle" fill="#000">resolution?</text>
<text x="1338" y="691.0" font-size="19" text-anchor="middle" fill="#000">It's the EURUSD price, so</text>
<text x="1338" y="712.9" font-size="19" text-anchor="middle" fill="#000">it should be the same 5</text>
<text x="1338" y="734.8" font-size="19" text-anchor="middle" fill="#000">digits as the chart scale.</text>
</svg>

<div style="position:absolute;left:0;top:0;width:1px;height:25px;background:#c4c4c4;"></div><div style="position:absolute;left:1px;top:1px;width:48px;height:23px;background:linear-gradient(#aa1d25,#5e1418);"></div>
<div style="position:absolute;left:49px;top:1px;width:5px;height:23px;background:linear-gradient(90deg,rgba(0,0,0,0.42),rgba(0,0,0,0));"></div>
<div style="position:absolute;left:7px;top:4px;font:14.7px 'Liberation Sans', sans-serif;color:#fff;line-height:18px;">Chart</div>
<div style="position:absolute;left:67px;top:3px;width:123px;height:16px;background:#e8e8e8;border:1px solid #000;"></div>
<div style="position:absolute;left:73px;top:5px;font:12.5px 'Liberation Sans', sans-serif;color:#000;line-height:16px;">6E 12-20</div>
<div style="position:absolute;left:198px;top:3px;width:123px;height:16px;background:#e8e8e8;border:1px solid #000;"></div>
<div style="position:absolute;left:204px;top:5px;font:12.5px 'Liberation Sans', sans-serif;color:#383844;line-height:16px;">300 Tick</div>

<svg width="1640" height="25" style="position:absolute;left:0;top:0">
<path d="M177.5,9 L181.5,14 L185.5,9" fill="none" stroke="#000" stroke-width="2"/>
<path d="M308,9 L312,14 L316,9" fill="none" stroke="#000" stroke-width="2"/>
<g fill="#333" stroke="none" shape-rendering="crispEdges">
<rect x="337" y="7" width="3" height="11"/><rect x="338" y="5" width="1" height="14"/>
<rect x="343" y="7" width="7" height="11"/><rect x="346" y="17" width="1" height="4"/>
</g>
<g stroke="#222" fill="none">
<path d="M365,9 L376,20" stroke-width="5"/><path d="M365.6,9.6 L375.6,19.6" stroke="#fff" stroke-width="2.4"/>
<path d="M363,7 L366.5,10.5" stroke="#222" stroke-width="5"/>
<path d="M374.5,22 L379.5,22 L378.5,17.5 Z" fill="#222" stroke="none"/>
<circle cx="396.6" cy="10.6" r="5.2" stroke-width="1.3"/><path d="M393.6,10.6H399.6 M396.6,7.6V13.6" stroke-width="1.3"/>
<path d="M400.5,14.5 L406.5,20.5" stroke-width="2.8"/>
<g stroke="#b0b0b0"><circle cx="424.4" cy="10.6" r="5.2" stroke-width="1.3"/><path d="M421.4,10.6H427.4" stroke-width="1.3"/><path d="M428.3,14.5 L434.3,20.5" stroke-width="2.8"/></g>
<circle cx="454.5" cy="12.5" r="5.3" stroke-width="1.3"/><path d="M447,12.5H462 M454.5,5V20" stroke-width="1.2"/>
</g>
<g stroke="#222" fill="none" shape-rendering="crispEdges" stroke-width="1">
<path d="M475.5,5.5 H483.5 L487.5,9.5 V20.5 H475.5 Z"/>
<path d="M478,11.5H482 M478,14.5H481 M478,17.5H482"/>
<path d="M503.5,5.5h3v3h-3z M503.5,10.5h3v3h-3z M506.5,7.5H513 M506.5,12.5H513"/>
<path d="M531.5,8V5.5H534 M543,5.5H545.5V8 M531.5,18V20.5H534 M543,20.5H545.5V18"/>
<path d="M588.5,6.5H601.5V20.5H588.5Z M591.5,5.5H598.5V7.5H591.5Z"/>
<path d="M615.5,5.5h3v3h-3z M615.5,11.5h3v3h-3z M615.5,17.5h3v3h-3z M621,7.5H631 M621,13.5H631 M621,19.5H631"/>
</g>
<path d="M484,5 L488,9 H484 Z" fill="#222"/>
<circle cx="486" cy="13.6" r="2.4" fill="#fff" stroke="#222" stroke-width="1.1"/><path d="M487.6,15.3 L490,17.7" stroke="#222" stroke-width="1.4"/>
<rect x="513" y="5" width="6" height="16" fill="#333"/>
<g fill="#222" shape-rendering="crispEdges"><rect x="533" y="13" width="2" height="5"/><rect x="536" y="8" width="2" height="10"/><rect x="539.5" y="10" width="2" height="8"/><rect x="543" y="11" width="1.5" height="7"/></g>
<path d="M561,18.8 L563.8,8.7 L569,15 L573.1,6.7" stroke="#222" stroke-width="1" fill="none"/>
<g fill="#fff" stroke="#222" stroke-width="1"><circle cx="561" cy="18.8" r="1.5"/><circle cx="563.8" cy="8.7" r="1.5"/><circle cx="569" cy="15" r="1.5"/><circle cx="573.1" cy="6.7" r="1.5"/></g>
<path d="M591.5,18.5V16H594L598,11.5 M596,11H598.5V13.5" stroke="#222" stroke-width="1" fill="none"/>
<path d="M590.8,9.3l2,2m0,-2l-2,2 M596,15.3l2,2m0,-2l-2,2" stroke="#222" stroke-width="0.8" fill="none"/>
</svg>
</div>
</body></html>
